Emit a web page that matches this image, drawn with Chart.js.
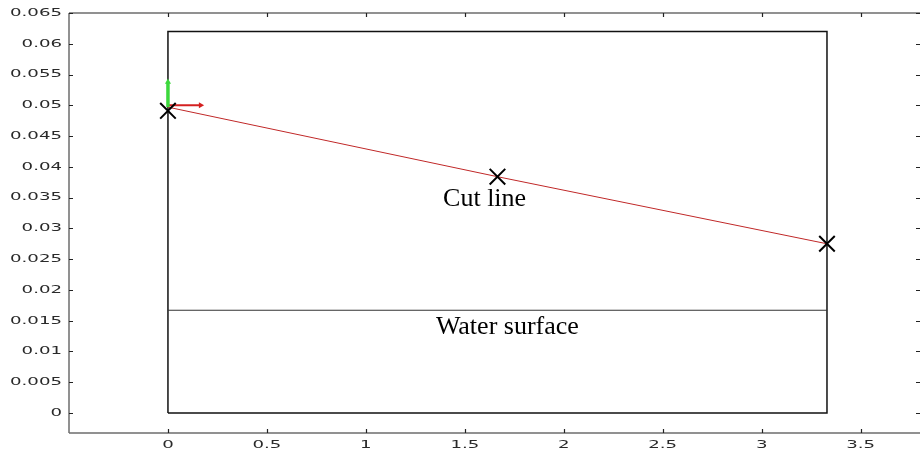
<!DOCTYPE html>
<html>
<head>
<meta charset="utf-8">
<style>
  html, body { margin: 0; padding: 0; background: #fff; overflow: hidden; }
  #wrap { width: 920px; height: 453px; position: relative; }
</style>
<script src="https://cdn.jsdelivr.net/npm/chart.js@4.4.1/dist/chart.umd.min.js"></script>
</head>
<body>
<div id="wrap"><canvas id="plot"></canvas></div>
<script>
// --------------- Data -----------------
const xTicks = [0, 0.5, 1, 1.5, 2, 2.5, 3, 3.5];
const xTickLabels = ["0", "0.5", "1", "1.5", "2", "2.5", "3", "3.5"];
const yTicks = [0, 0.005, 0.01, 0.015, 0.02, 0.025, 0.03, 0.035, 0.04, 0.045, 0.05, 0.055, 0.06, 0.065];
const yTickLabels = ["0", "0.005", "0.01", "0.015", "0.02", "0.025", "0.03", "0.035", "0.04", "0.045", "0.05", "0.055", "0.06", "0.065"];

// domain outline
const boxX = [0, 0, 3.33, 3.33, 0];
const boxY = [0, 0.062, 0.062, 0, 0];

// water surface
const waterX = [0, 3.33];
const waterY = [0.0167, 0.0167];

// cut line (start, middle, end)
const cutX = [0, 1.665, 3.33];
const cutY = [0.0497, 0.0384, 0.0275];
const markY = [0.0491, 0.0384, 0.0275];

// local axes arrows at the start point
const arrowUpX = [0, 0];
const arrowUpY = [0.0497, 0.0538];
const arrowRightX = [0, 0.165];
const arrowRightY = [0.0500, 0.0500];

// text labels
const notes = [
  { text: "Cut line", x: 1.6, y: 0.0348 },
  { text: "Water surface", x: 1.715, y: 0.0140 }
];

const pts = (xs, ys) => xs.map((x, i) => ({ x: x, y: ys[i] }));

// --------------- Frame, inward ticks and widened tick labels -----------------
const framePlugin = {
  id: "frame",
  afterDraw(chart) {
    const ctx = chart.ctx;
    const a = chart.chartArea;
    const xs = chart.scales.x, ys = chart.scales.y;
    ctx.save();
    ctx.strokeStyle = "#6e6e6e";
    ctx.lineWidth = 1.5;
    ctx.beginPath();
    ctx.moveTo(a.left, a.top); ctx.lineTo(a.right, a.top);
    ctx.moveTo(a.left, a.top); ctx.lineTo(a.left, a.bottom);
    ctx.moveTo(a.left, a.bottom); ctx.lineTo(a.right, a.bottom);
    ctx.stroke();

    ctx.strokeStyle = "#222";
    ctx.lineWidth = 1.2;
    ctx.beginPath();
    xs.ticks.forEach((t, i) => {
      const px = Math.round(xs.getPixelForTick(i)) + 0.5;
      ctx.moveTo(px, a.top); ctx.lineTo(px, a.top + 4);
      ctx.moveTo(px, a.bottom); ctx.lineTo(px, a.bottom - 4);
    });
    ys.ticks.forEach((t, i) => {
      const py = Math.round(ys.getPixelForTick(i)) + 0.5;
      ctx.moveTo(a.left, py); ctx.lineTo(a.left + 4, py);
      ctx.moveTo(a.right, py); ctx.lineTo(a.right - 4, py);
    });
    ctx.stroke();

    // tick labels, drawn horizontally widened
    const stretch = 1.65;
    ctx.fillStyle = "#2a2a2a";
    ctx.font = "11px 'DejaVu Sans'";
    ctx.textBaseline = "middle";
    xs.ticks.forEach((t, i) => {
      ctx.save();
      ctx.translate(xs.getPixelForTick(i), a.bottom + 12);
      ctx.scale(stretch, 1);
      ctx.textAlign = "center";
      ctx.fillText(xTickLabels[i], 0, 0);
      ctx.restore();
    });
    ys.ticks.forEach((t, i) => {
      ctx.save();
      ctx.translate(a.left - 7, ys.getPixelForTick(i));
      ctx.scale(stretch, 1);
      ctx.textAlign = "right";
      ctx.fillText(yTickLabels[i], 0, 0);
      ctx.restore();
    });

    // annotations
    ctx.fillStyle = "#000";
    ctx.font = "26px 'Liberation Serif'";
    ctx.textAlign = "center";
    notes.forEach(n => {
      ctx.fillText(n.text, xs.getPixelForValue(n.x), ys.getPixelForValue(n.y));
    });
    ctx.restore();
  }
};

// --------------- Chart -----------------
// datasets listed first end up on top
const ctx = document.getElementById("plot").getContext("2d");
new Chart(ctx, {
  type: "scatter",
  data: {
    datasets: [
      {
        data: pts(cutX, markY),
        showLine: false,
        pointStyle: "crossRot",
        pointRadius: 11,
        pointBorderColor: "#000",
        pointBorderWidth: 2
      },
      {
        data: pts(arrowUpX, arrowUpY),
        showLine: true,
        borderColor: "#3cd83c",
        borderWidth: 3.5,
        pointStyle: "triangle",
        pointRadius: [0, 3.5],
        pointBackgroundColor: "#3cd83c",
        pointBorderColor: "#3cd83c",
        pointBorderWidth: 0
      },
      {
        data: pts(arrowRightX, arrowRightY),
        showLine: true,
        borderColor: "#d42020",
        borderWidth: 2,
        pointStyle: "triangle",
        rotation: 90,
        pointRadius: [0, 3.5],
        pointBackgroundColor: "#d42020",
        pointBorderColor: "#d42020",
        pointBorderWidth: 0
      },
      {
        data: pts(cutX, cutY),
        showLine: true,
        borderColor: "#c02828",
        borderWidth: 1,
        pointRadius: 0
      },
      {
        data: pts(waterX, waterY),
        showLine: true,
        borderColor: "#333",
        borderWidth: 1.2,
        pointRadius: 0
      },
      {
        data: pts(boxX, boxY),
        showLine: true,
        borderColor: "#111",
        borderWidth: 1.5,
        pointRadius: 0
      }
    ]
  },
  options: {
    responsive: true,
    maintainAspectRatio: false,
    animation: false,
    layout: { autoPadding: false, padding: { top: 13, right: 0, left: 0, bottom: 0 } },
    plugins: { legend: { display: false }, tooltip: { enabled: false } },
    scales: {
      x: {
        type: "linear",
        min: -0.5,
        max: 3.8,
        afterBuildTicks: s => { s.ticks = xTicks.map(v => ({ value: v })); },
        afterFit: s => { s.height = 20; },
        ticks: { display: false },
        grid: { display: false },
        border: { display: false }
      },
      y: {
        type: "linear",
        min: -0.00325,
        max: 0.065,
        afterBuildTicks: s => { s.ticks = yTicks.map(v => ({ value: v })); },
        afterFit: s => { s.width = 69; },
        ticks: { display: false },
        grid: { display: false },
        border: { display: false }
      }
    }
  },
  plugins: [framePlugin]
});
</script>
</body>
</html>
